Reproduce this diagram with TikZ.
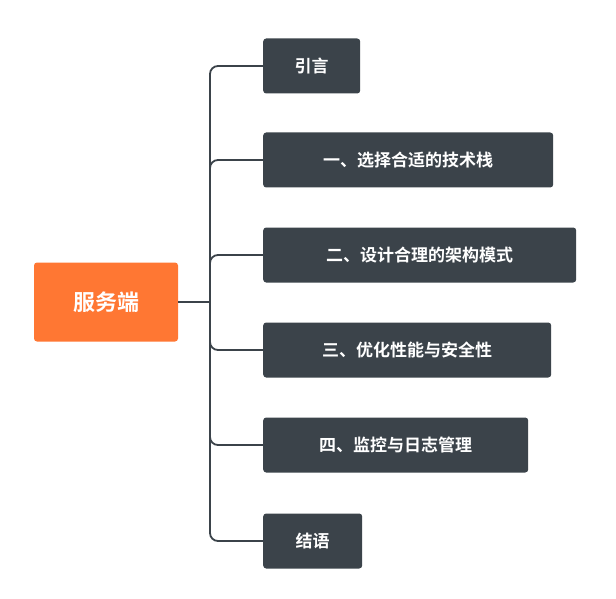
\documentclass[tikz,border=0pt]{standalone}
\usepackage{fontspec}
\setmainfont{Noto Sans CJK SC}[BoldFont={* Bold}]
\definecolor{dark}{HTML}{3B434A}
\definecolor{org}{HTML}{FF7733}
\begin{document}
\begin{tikzpicture}[x=1pt,y=-1pt,
  child/.style={fill=dark,rounded corners=3pt,text=white,font=\bfseries\fontsize{17}{20}\selectfont,anchor=west,minimum height=55pt,inner xsep=12pt},
  link/.style={draw=dark,line width=1.8pt,rounded corners=8pt}]
\useasboundingbox (0,0) rectangle (616,599);
\node[fill=org,rounded corners=3pt,text=white,font=\bfseries\fontsize{22}{26}\selectfont,minimum width=144pt,minimum height=79pt] (root) at (106,302) {服务端};
\node[child,minimum width=97pt,anchor=west] (c1) at (263,66) {引言};
\node[child,minimum width=290pt] (c2) at (263,160) {一、选择合适的技术栈};
\node[child,minimum width=313pt] (c3) at (263,255) {二、设计合理的架构模式};
\node[child,minimum width=288pt] (c4) at (263,350) {三、优化性能与安全性};
\node[child,minimum width=265pt] (c5) at (263,445) {四、监控与日志管理};
\node[child,minimum width=99pt] (c6) at (263,541) {结语};
\coordinate (j) at (210,302);
\draw[link] (root.east) -- (j);
\draw[link] (c1.west) -- (210,66) -- (j);
\draw[link] (c6.west) -- (210,541) -- (j);
\foreach \c in {c2,c3,c4,c5}{\draw[link] (\c.west) -| (j);}
\end{tikzpicture}
\end{document}
